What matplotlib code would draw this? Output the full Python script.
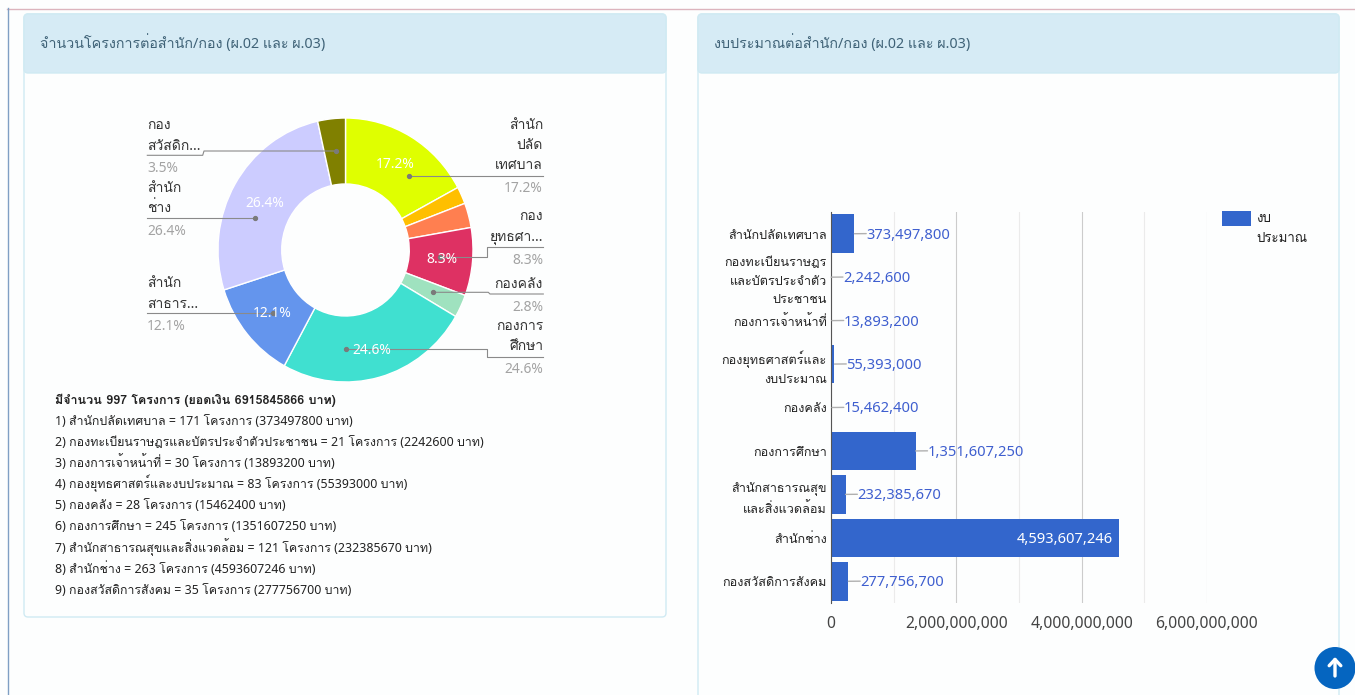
import matplotlib
matplotlib.use('Agg')
import matplotlib.pyplot as plt
from matplotlib import font_manager as fm
from matplotlib.ft2font import FT2Font
from matplotlib.patches import Rectangle, FancyBboxPatch, Ellipse

# find whichever installed family has Thai glyphs
thai_fonts = []
for f in fm.fontManager.ttflist:
    try:
        if 0x0E01 in FT2Font(f.fname).get_charmap() and f.name not in thai_fonts:
            thai_fonts.append(f.name)
    except Exception:
        pass
plt.rcParams['font.family'] = ['Noto Sans'] + thai_fonts[:2] + ['DejaVu Sans']

W, H = 1355, 695

offices = ['สำนักปลัดเทศบาล', 'กองทะเบียนราษฎรและบัตรประจำตัวประชาชน', 'กองการเจ้าหน้าที่',
           'กองยุทธศาสตร์และงบประมาณ', 'กองคลัง', 'กองการศึกษา',
           'สำนักสาธารณสุขและสิ่งแวดล้อม', 'สำนักช่าง', 'กองสวัสดิการสังคม']
bar_labels = ['สำนักปลัดเทศบาล', 'กองทะเบียนราษฎร\nและบัตรประจำตัว\nประชาชน', 'กองการเจ้าหน้าที่',
              'กองยุทธศาสตร์และ\nงบประมาณ', 'กองคลัง', 'กองการศึกษา',
              'สำนักสาธารณสุข\nและสิ่งแวดล้อม', 'สำนักช่าง', 'กองสวัสดิการสังคม']
projects = [171, 21, 30, 83, 28, 245, 121, 263, 35]
budget = [373497800, 2242600, 13893200, 55393000, 15462400, 1351607250, 232385670, 4593607246, 277756700]
pie_colors = ['#DFFF00', '#FFBF00', '#FF7F50', '#DE3163', '#9FE2BF', '#40E0D0', '#6495ED', '#CCCCFF', '#808000']
x_ticks = [0, 2000000000, 4000000000, 6000000000]

fig = plt.figure(figsize=(W / 100, H / 100), dpi=100, facecolor='#fdfefe')


def axes_px(left, top, right, bottom, **kw):
    return fig.add_axes([left / W, 1 - bottom / H, (right - left) / W, (bottom - top) / H], **kw)


# page furniture in pixel coordinates
bg = fig.add_axes([0, 0, 1, 1], zorder=0)
bg.set_xlim(0, W)
bg.set_ylim(H, 0)
bg.axis('off')
bg.plot([7, W], [8.5, 8.5], color='#dcb4bd', lw=1)
bg.plot([7.5, 7.5], [8, H], color='#7f9fc4', lw=1)

for left, right, bottom in [(24, 666, 617), (698, 1339, 720)]:
    bg.add_patch(FancyBboxPatch((left, 14), right - left, bottom - 14, boxstyle='round,pad=0,rounding_size=4',
                                fc='#fdfefe', ec='#d0eaf3', lw=1))
    bg.add_patch(FancyBboxPatch((left, 14), right - left, 59, boxstyle='round,pad=0,rounding_size=4',
                                fc='#d6ebf5', ec='#d0eaf3', lw=1))
bg.text(40, 43, 'จำนวนโครงการต่อสำนัก/กอง (ผ.02 และ ผ.03)', fontsize=10.3, color='#3f6277', va='center')
bg.text(714, 43, 'งบประมาณต่อสำนัก/กอง (ผ.02 และ ผ.03)', fontsize=10.3, color='#3f6277', va='center')

# donut
cx, cy, rx, ry = 345.5, 250, 127.5, 132
pie_ax = axes_px(cx - rx, cy - ry, cx + rx, cy + ry, zorder=1)
pie_ax.pie(projects, colors=pie_colors, startangle=90, counterclock=False, radius=1,
           wedgeprops=dict(width=0.5, edgecolor='white', linewidth=1))
pie_ax.set_aspect('auto')
pie_ax.set_xlim(-1, 1)
pie_ax.set_ylim(-1, 1)

over = fig.add_axes([0, 0, 1, 1], zorder=3)
over.set_xlim(0, W)
over.set_ylim(H, 0)
over.axis('off')
over.patch.set_alpha(0)

leaders = [
    [(409.3, 176), (543.3, 176)],
    [(440, 257.3), (487.3, 257.3), (487.3, 246.7), (543.3, 246.7)],
    [(433.3, 292.3), (488.3, 292.3), (490, 294), (543.3, 294)],
    [(346, 349.3), (487.3, 349.3), (487.3, 356.7), (543.3, 356.7)],
    [(273.3, 313.3), (147.3, 313.3)],
    [(255, 218), (147.3, 218)],
    [(335.7, 151), (204, 151), (202.7, 155.3), (147.3, 155.3)],
]
for pts in leaders:
    xs, ys = zip(*pts)
    over.plot(xs, ys, color='#8a8a8a', lw=0.8)
    over.plot(xs[0], ys[0], 'o', color='#7a7a7a', ms=2.8)

slice_labels = [
    (543, 'right', [('สำนัก', 124), ('ปลัด', 144), ('เทศบาล', 164)], ('17.2%', 187)),
    (543, 'right', [('กอง', 215), ('ยุทธศา...', 236)], ('8.3%', 259)),
    (543, 'right', [('กองคลัง', 283)], ('2.8%', 306)),
    (543, 'right', [('กองการ', 325), ('ศึกษา', 345)], ('24.6%', 368)),
    (147, 'left', [('กอง', 124), ('สวัสดิก...', 145)], ('3.5%', 167)),
    (147, 'left', [('สำนัก', 187), ('ช่าง', 207)], ('26.4%', 230)),
    (147, 'left', [('สำนัก', 282), ('สาธาร...', 303)], ('12.1%', 325)),
]
for x, ha, lines, pct in slice_labels:
    for txt, y in lines:
        over.text(x, y + 5, txt, ha=ha, va='baseline', fontsize=10, color='#333333')
    over.text(x, pct[1] + 5, pct[0], ha=ha, va='baseline', fontsize=10, color='#a3a3a3')

for txt, x, y in [('17.2%', 395, 163), ('8.3%', 442, 258), ('24.6%', 372, 349), ('12.1%', 272, 312), ('26.4%', 265, 202)]:
    over.text(x, y + 5, txt, ha='center', va='baseline', fontsize=10, color='white')

# summary list under the donut
total = sum(projects)
over.text(55, 404, f'มีจำนวน {total} โครงการ (ยอดเงิน {sum(budget)} บาท)', fontsize=9, fontweight='bold',
          family=thai_fonts[:2] + ['DejaVu Sans'], color='#222222', va='baseline')
for i, (name, n, b) in enumerate(zip(offices, projects, budget)):
    over.text(55, 425 + i * 21.1, f'{i + 1}) {name} = {n} โครงการ ({b} บาท)', fontsize=8.9, color='#222222',
              va='baseline')

# budget bars
ax = axes_px(831, 212, 1207, 603, zorder=2)
ax.patch.set_alpha(0)
y = range(len(budget))
ax.barh(y, budget, height=0.89, color='#3366CC', zorder=3)
ax.set_ylim(len(budget) - 0.5, -0.5)
ax.set_xlim(0, 6000000000)
ax.set_xticks(x_ticks, [f'{v:,}' for v in x_ticks])
ax.set_xticks([1000000000, 3000000000, 5000000000], minor=True)
ax.set_yticks(list(y), bar_labels)
ax.tick_params(axis='both', which='both', length=0)
ax.tick_params(axis='x', labelsize=11.3, labelcolor='#444444', pad=9)
ax.tick_params(axis='y', labelsize=9.1, labelcolor='#222222', pad=3)
for lab in ax.get_yticklabels():
    lab.set_linespacing(1.55)
ax.grid(axis='x', which='major', color='#cccccc', lw=0.8, zorder=0)
ax.grid(axis='x', which='minor', color='#ebebeb', lw=0.8, zorder=0)
for s in ['top', 'right', 'bottom']:
    ax.spines[s].set_visible(False)
ax.spines['left'].set_color('#555555')
ax.spines['left'].set_zorder(5)

for i, v in enumerate(budget):
    if v > 3000000000:
        ax.annotate(f'{v:,}', (v, i), xytext=(-4, -1), textcoords='offset points', ha='right', va='center',
                    fontsize=10.6, color='white', zorder=6)
    else:
        ax.annotate(f'{v:,}', (v, i), xytext=(8.5, -1), textcoords='offset points', ha='left', va='center',
                    fontsize=10.6, color='#3f5fcf', zorder=6,
                    arrowprops=dict(arrowstyle='-', color='#b0b0b0', lw=1, shrinkA=0, shrinkB=0,
                                    relpos=(0, 0.6), patchA=None))

# legend
over.add_patch(Rectangle((1222, 211), 29, 15, fc='#3366CC', ec='none'))
over.text(1256, 219, 'งบ', fontsize=9.6, color='#222222', va='center')
over.text(1256, 239, 'ประมาณ', fontsize=9.6, color='#222222', va='center')

# back to top button
over.add_patch(Ellipse((1335, 668), 41, 42, fc='#0565c0', ec='none'))
over.annotate('', xy=(1335, 657), xytext=(1335, 676),
              arrowprops=dict(arrowstyle='->,head_width=0.42,head_length=0.45', color='white', lw=2.4,
                              shrinkA=0, shrinkB=0))

fig.savefig('out.png', dpi=100, facecolor=fig.get_facecolor())
